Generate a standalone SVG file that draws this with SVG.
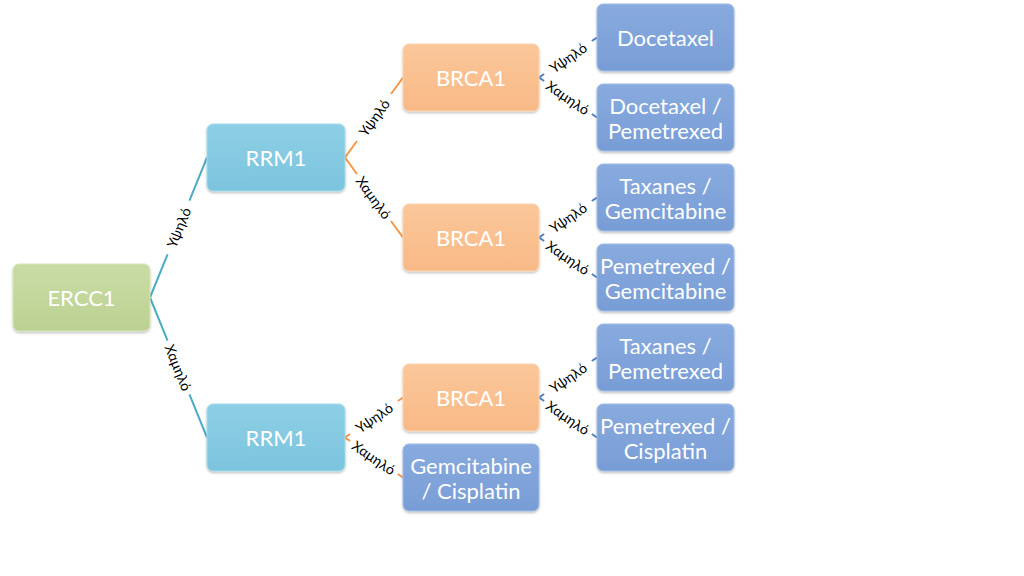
<svg xmlns="http://www.w3.org/2000/svg" width="1024" height="576" viewBox="0 0 1024 576">
<style>
.node{stroke-width:1}
.ntext{font-family:Lato,"Open Sans","Liberation Sans",sans-serif;font-size:22px;fill:#ffffff;text-anchor:middle;dominant-baseline:central}
.lbl{font-family:Lato,"Open Sans","Liberation Sans",sans-serif;font-size:14px;fill:#000000;text-anchor:middle;dominant-baseline:central}
.e{fill:none;stroke-width:2}
.teal{stroke:#4bacc6;stroke-dasharray:46.6 58 400}
.orng{stroke:#f79646}
.blu{stroke:#4f81bd}
.long{stroke-dasharray:20.4 58 400}
.short{stroke-dasharray:6.2 58 400}
</style>
<defs>
<linearGradient id="gG" x1="0" y1="0" x2="0" y2="1"><stop offset="0" stop-color="#cadca6"/><stop offset="1" stop-color="#bcd191"/></linearGradient>
<linearGradient id="gC" x1="0" y1="0" x2="0" y2="1"><stop offset="0" stop-color="#8dcfe5"/><stop offset="1" stop-color="#7cc4de"/></linearGradient>
<linearGradient id="gO" x1="0" y1="0" x2="0" y2="1"><stop offset="0" stop-color="#fbc79a"/><stop offset="1" stop-color="#f8b987"/></linearGradient>
<linearGradient id="gB" x1="0" y1="0" x2="0" y2="1"><stop offset="0" stop-color="#88aade"/><stop offset="1" stop-color="#789dd6"/></linearGradient>
<filter id="sh" x="-10%" y="-10%" width="120%" height="130%"><feDropShadow dx="0" dy="1.5" stdDeviation="1.2" flood-color="#000" flood-opacity="0.25"/></filter>
</defs>
<g id="connectors">
<line class="e teal" x1="150" y1="297.5" x2="207" y2="157.5"/>
<line class="e teal" x1="150" y1="297.5" x2="207" y2="437.5"/>
<line class="e orng long" x1="345" y1="157.5" x2="403" y2="77.5"/>
<line class="e orng long" x1="345" y1="157.5" x2="403" y2="237.5"/>
<line class="e orng short" x1="345" y1="437.5" x2="403" y2="397.5"/>
<line class="e orng short" x1="345" y1="437.5" x2="403" y2="477.5"/>
<line class="e blu short" x1="539" y1="77.5" x2="597" y2="37.5"/>
<line class="e blu short" x1="539" y1="77.5" x2="597" y2="117.5"/>
<line class="e blu short" x1="539" y1="237.5" x2="597" y2="197.5"/>
<line class="e blu short" x1="539" y1="237.5" x2="597" y2="277.5"/>
<line class="e blu short" x1="539" y1="397.5" x2="597" y2="357.5"/>
<line class="e blu short" x1="539" y1="397.5" x2="597" y2="437.5"/>
<text class="lbl" transform="translate(178.5,227.5) rotate(-67.85)">Υψηλό</text>
<text class="lbl" transform="translate(178.5,367.5) rotate(67.85)">Χαμηλό</text>
<text class="lbl" transform="translate(374,117.5) rotate(-54.06)">Υψηλό</text>
<text class="lbl" transform="translate(374,197.5) rotate(54.06)">Χαμηλό</text>
<text class="lbl" transform="translate(374,417.5) rotate(-34.59)">Υψηλό</text>
<text class="lbl" transform="translate(374,457.5) rotate(34.59)">Χαμηλό</text>
<text class="lbl" transform="translate(568,57.5) rotate(-34.59)">Υψηλό</text>
<text class="lbl" transform="translate(568,97.5) rotate(34.59)">Χαμηλό</text>
<text class="lbl" transform="translate(568,217.5) rotate(-34.59)">Υψηλό</text>
<text class="lbl" transform="translate(568,257.5) rotate(34.59)">Χαμηλό</text>
<text class="lbl" transform="translate(568,377.5) rotate(-34.59)">Υψηλό</text>
<text class="lbl" transform="translate(568,417.5) rotate(34.59)">Χαμηλό</text>
</g>
<g id="ercc1"><rect x="13" y="264" width="137" height="67" rx="6" fill="url(#gG)" stroke="#d6e5ba" filter="url(#sh)"/><text class="ntext" x="81.5" y="297.5">ERCC1</text></g>
<g id="rrm1-high"><rect x="207" y="124" width="138" height="67" rx="6" fill="url(#gC)" stroke="#a3dbec" filter="url(#sh)"/><text class="ntext" x="276" y="157.5">RRM1</text></g>
<g id="rrm1-low"><rect x="207" y="404" width="138" height="67" rx="6" fill="url(#gC)" stroke="#a3dbec" filter="url(#sh)"/><text class="ntext" x="276" y="437.5">RRM1</text></g>
<g id="brca1-a"><rect x="403" y="44" width="136" height="67" rx="6" fill="url(#gO)" stroke="#fcd4b2" filter="url(#sh)"/><text class="ntext" x="471" y="77.5">BRCA1</text></g>
<g id="brca1-b"><rect x="403" y="204" width="136" height="67" rx="6" fill="url(#gO)" stroke="#fcd4b2" filter="url(#sh)"/><text class="ntext" x="471" y="237.5">BRCA1</text></g>
<g id="brca1-c"><rect x="403" y="364" width="136" height="67" rx="6" fill="url(#gO)" stroke="#fcd4b2" filter="url(#sh)"/><text class="ntext" x="471" y="397.5">BRCA1</text></g>
<g id="gem-cis"><rect x="403" y="444" width="136" height="67" rx="6" fill="url(#gB)" stroke="#a0bbe6" filter="url(#sh)"/><text class="ntext" x="471" y="465">Gemcitabine</text><text class="ntext" x="471" y="490">/ Cisplatin</text></g>
<g id="docetaxel"><rect x="597" y="4" width="137" height="67" rx="6" fill="url(#gB)" stroke="#a0bbe6" filter="url(#sh)"/><text class="ntext" x="665.5" y="37.5">Docetaxel</text></g>
<g id="doc-pem"><rect x="597" y="84" width="137" height="67" rx="6" fill="url(#gB)" stroke="#a0bbe6" filter="url(#sh)"/><text class="ntext" x="665.5" y="105">Docetaxel /</text><text class="ntext" x="665.5" y="130">Pemetrexed</text></g>
<g id="tax-gem"><rect x="597" y="164" width="137" height="67" rx="6" fill="url(#gB)" stroke="#a0bbe6" filter="url(#sh)"/><text class="ntext" x="665.5" y="185">Taxanes /</text><text class="ntext" x="665.5" y="210">Gemcitabine</text></g>
<g id="pem-gem"><rect x="597" y="244" width="137" height="67" rx="6" fill="url(#gB)" stroke="#a0bbe6" filter="url(#sh)"/><text class="ntext" x="665.5" y="265">Pemetrexed /</text><text class="ntext" x="665.5" y="290">Gemcitabine</text></g>
<g id="tax-pem"><rect x="597" y="324" width="137" height="67" rx="6" fill="url(#gB)" stroke="#a0bbe6" filter="url(#sh)"/><text class="ntext" x="665.5" y="345">Taxanes /</text><text class="ntext" x="665.5" y="370">Pemetrexed</text></g>
<g id="pem-cis"><rect x="597" y="404" width="137" height="67" rx="6" fill="url(#gB)" stroke="#a0bbe6" filter="url(#sh)"/><text class="ntext" x="665.5" y="425">Pemetrexed /</text><text class="ntext" x="665.5" y="450">Cisplatin</text></g>
</svg>
